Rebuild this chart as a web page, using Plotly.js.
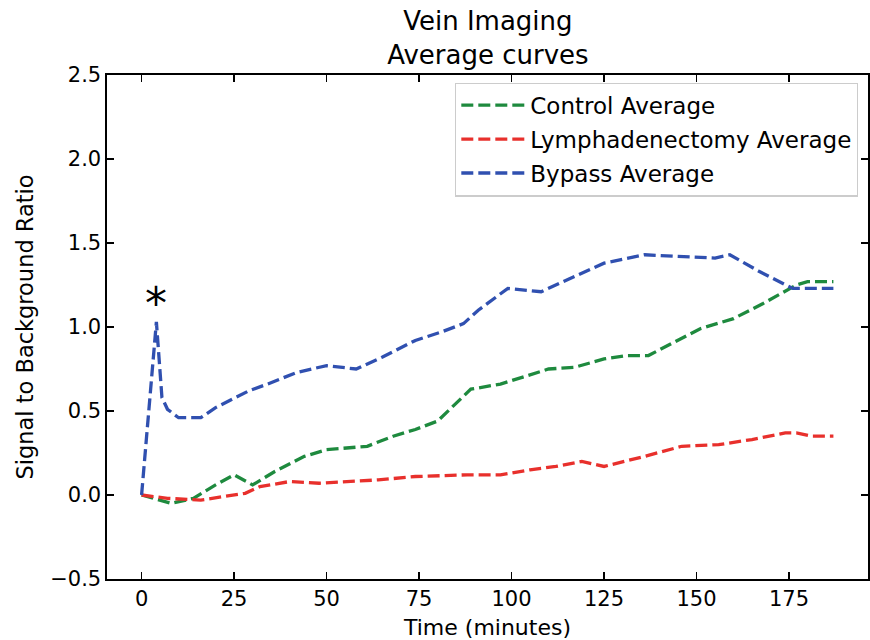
<!DOCTYPE html>
<html>
<head>
<meta charset="utf-8">
<script src="https://cdn.plot.ly/plotly-3.0.1.min.js"></script>
<style>html,body{margin:0;padding:0;background:#fff;}#chart{width:870px;height:640px;}</style>
</head>
<body>
<div id="chart"></div>
<script>
// Control Average
const controlTime = [0, 8, 14, 20, 25, 30, 36, 44, 50, 55, 61, 68, 74, 80, 89, 97, 103, 110, 117, 125, 131, 137, 144, 151, 160, 168, 177, 180, 187];
const controlAvg  = [0, -0.05, -0.02, 0.06, 0.12, 0.06, 0.14, 0.23, 0.27, 0.28, 0.29, 0.35, 0.39, 0.44, 0.63, 0.66, 0.70, 0.75, 0.76, 0.81, 0.83, 0.83, 0.91, 0.99, 1.05, 1.14, 1.25, 1.27, 1.27];

// Lymphadenectomy Average
const lymphTime = [0, 7, 16, 25, 28, 32, 40, 48, 58, 64, 74, 88, 97, 105, 112, 119, 125, 136, 146, 156, 165, 174, 177, 181, 187];
const lymphAvg  = [0, -0.02, -0.03, 0.00, 0.01, 0.05, 0.08, 0.07, 0.08, 0.09, 0.11, 0.12, 0.12, 0.15, 0.17, 0.20, 0.17, 0.23, 0.29, 0.30, 0.33, 0.37, 0.37, 0.35, 0.35];

// Bypass Average
const bypassTime = [0, 4, 5.5, 7, 10, 16, 20, 29, 34, 42, 50, 58, 65, 74, 81, 87, 91, 99, 108, 114, 125, 136, 145, 155, 159, 167, 176, 179, 187];
const bypassAvg  = [0, 1.03, 0.58, 0.51, 0.46, 0.46, 0.52, 0.62, 0.66, 0.73, 0.77, 0.75, 0.82, 0.92, 0.97, 1.02, 1.10, 1.23, 1.21, 1.27, 1.38, 1.43, 1.42, 1.41, 1.43, 1.33, 1.23, 1.23, 1.23];

const seriesNames = ["Control Average", "Lymphadenectomy Average", "Bypass Average"];
const xTicks = [0, 25, 50, 75, 100, 125, 150, 175];
const yTicks = [-0.5, 0.0, 0.5, 1.0, 1.5, 2.0, 2.5];
const starLabel = {x: 4, y: 1.14, text: "*"};

const FONT = "DejaVu Sans, sans-serif";
const dashPat = "12px,5px";
function mk(x, y, name, color, grp) {
  return {x: x, y: y, name: name, type: "scatter", mode: "lines", legendgroup: grp,
    line: {color: color, width: 3.3, dash: dashPat}, hoverinfo: "skip"};
}
const data = [
  mk(controlTime, controlAvg, seriesNames[0], "#1e8a3e", "a"),
  mk(lymphTime, lymphAvg, seriesNames[1], "#e8302c", "b"),
  mk(bypassTime, bypassAvg, seriesNames[2], "#3050b0", "c")
];
const axisCommon = {
  showgrid: false, zeroline: false, showline: true, linecolor: "#000", linewidth: 1.6,
  mirror: "ticks", ticks: "inside", ticklen: 7, tickwidth: 1.4, tickcolor: "#000",
  tickfont: {family: FONT, size: 21, color: "#000"}
};
const layout = {
  width: 870, height: 640,
  margin: {l: 107, r: 2, t: 75, b: 61},
  paper_bgcolor: "#fff", plot_bgcolor: "#fff",
  font: {family: FONT, color: "#000"},
  title: {text: "Vein Imaging<br>Average curves", font: {family: FONT, size: 26, color: "#000"},
    x: 0.5608, xanchor: "center", y: 0.953, yanchor: "top"},
  xaxis: Object.assign({}, axisCommon, {
    range: [-9.35, 196.35], tickvals: xTicks, ticktext: xTicks.map(String),
    title: {text: "Time (minutes)", font: {family: FONT, size: 22, color: "#000"}, standoff: 10}
  }),
  yaxis: Object.assign({}, axisCommon, {
    range: [-0.5, 2.5], tickvals: yTicks, ticktext: yTicks.map(v => v < 0 ? "\u2212" + Math.abs(v).toFixed(1) : v.toFixed(1)),
    title: {text: "Signal to Background Ratio", font: {family: FONT, size: 22.5, color: "#000"}, standoff: 10}
  }),
  legend: {
    x: 0.987, xanchor: "right", y: 0.985, yanchor: "top",
    bgcolor: "#fff", bordercolor: "#cccccc", borderwidth: 1.2,
    font: {family: FONT, size: 23, color: "#000"},
    tracegroupgap: 1, itemwidth: 64
  },
  annotations: [{x: starLabel.x, y: starLabel.y, text: starLabel.text, showarrow: false,
    xref: "x", yref: "y", font: {family: FONT, size: 44, color: "#000"}, xanchor: "center", yanchor: "middle"}],
  showlegend: true
};
Plotly.newPlot("chart", data, layout, {displayModeBar: false, staticPlot: true});
</script>
</body>
</html>
